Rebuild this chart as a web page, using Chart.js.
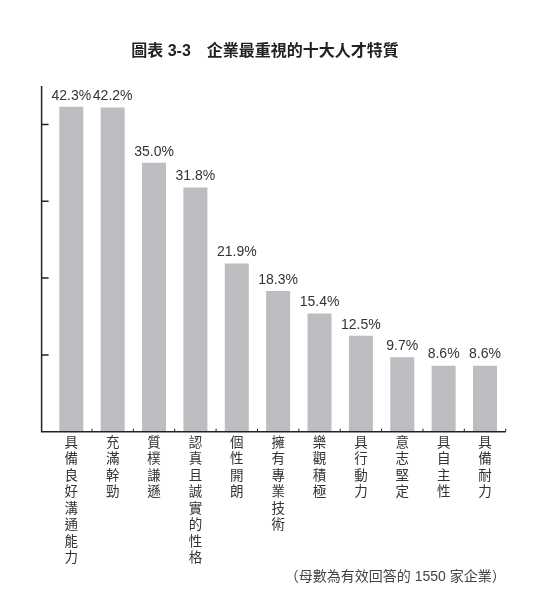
<!DOCTYPE html>
<html>
<head>
<meta charset="utf-8">
<script src="https://cdn.jsdelivr.net/npm/chart.js@4"></script>
<style>
  html, body { margin: 0; padding: 0; background: #fff; }
  #wrap { width: 540px; height: 608px; }
</style>
</head>
<body>
<div id="wrap"><canvas id="barchart" width="540" height="608"></canvas></div>
<script>
"use strict";

var categories = ['具備良好溝通能力', '充滿幹勁', '質樸謙遜', '認真且誠實的性格', '個性開朗',
    '擁有專業技術', '樂觀積極', '具行動力', '意志堅定', '具自主性', '具備耐力'];
var percents = [42.3, 42.2, 35.0, 31.8, 21.9, 18.3, 15.4, 12.5, 9.7, 8.6, 8.6];
var yTicks = [10, 20, 30, 40];
var yMax = 45;

var fontFamily = '"Liberation Sans", Arial, "Noto Sans CJK TC", sans-serif';
var textColor = '#333333';

// draw value labels above each bar
var valueLabels = {
    id: 'valueLabels',
    afterDatasetsDraw: function (chart) {
        var ctx = chart.ctx;
        var meta = chart.getDatasetMeta(0);
        ctx.save();
        ctx.font = '14px ' + fontFamily;
        ctx.fillStyle = textColor;
        ctx.textAlign = 'center';
        ctx.textBaseline = 'bottom';
        meta.data.forEach(function (bar, i) {
            ctx.fillText(percents[i].toFixed(1) + '%', bar.x, bar.y - 4);
        });
        ctx.restore();
    }
};

// axis lines with inward ticks
var axisLines = {
    id: 'axisLines',
    afterDraw: function (chart) {
        var ctx = chart.ctx;
        var area = chart.chartArea;
        var x = chart.scales.x;
        var y = chart.scales.y;
        var axisX = area.left - 9;
        ctx.save();
        ctx.strokeStyle = '#222222';
        ctx.lineWidth = 1.5;
        ctx.beginPath();
        ctx.moveTo(axisX, y.getPixelForValue(yMax));
        ctx.lineTo(axisX, area.bottom);
        ctx.lineTo(area.right, area.bottom);
        ctx.stroke();

        ctx.beginPath();
        yTicks.forEach(function (v) {
            var py = y.getPixelForValue(v);
            ctx.moveTo(axisX, py);
            ctx.lineTo(axisX + 7, py);
        });
        ctx.stroke();

        ctx.lineWidth = 1;
        ctx.beginPath();
        for (var i = 1; i <= categories.length; i++) {
            var px = i < categories.length
                ? (x.getPixelForValue(i - 1) + x.getPixelForValue(i)) / 2
                : area.right;
            ctx.moveTo(px, area.bottom);
            ctx.lineTo(px, area.bottom - 3);
        }
        ctx.stroke();
        ctx.restore();
    }
};

var ctx = document.getElementById('barchart').getContext('2d');
var myChart = new Chart(ctx, {
    type: 'bar',
    data: {
        labels: categories.map(function (c) { return c.split(''); }),
        datasets: [{
            data: percents,
            backgroundColor: '#bcbdc0',
            borderWidth: 0,
            barPercentage: 0.58,
            categoryPercentage: 1
        }]
    },
    options: {
        responsive: false,
        animation: false,
        layout: {
            padding: { left: 24.3, right: 34.3, top: 0, bottom: 0 }
        },
        scales: {
            x: {
                grid: { display: false, drawTicks: false },
                border: { display: false },
                ticks: {
                    autoSkip: false,
                    maxRotation: 0,
                    minRotation: 0,
                    padding: 3,
                    color: textColor,
                    font: { family: fontFamily, size: 13.5, lineHeight: '16.5px' }
                },
                afterFit: function (scale) { scale.height = 134; }
            },
            y: {
                min: 0,
                max: yMax,
                grid: { display: false, drawTicks: false },
                border: { display: false },
                ticks: { display: false },
                afterFit: function (scale) { scale.width = 26.3; }
            }
        },
        plugins: {
            legend: { display: false },
            tooltip: { enabled: false },
            title: {
                display: true,
                text: '圖表 3-3　企業最重視的十大人才特質',
                color: '#222222',
                font: { family: fontFamily, size: 16, weight: 'bold', lineHeight: 1.2 },
                padding: { top: 42, bottom: 24.8 }
            },
            subtitle: {
                display: true,
                position: 'bottom',
                align: 'end',
                text: '（母數為有效回答的 1550 家企業）',
                color: '#444444',
                font: { family: fontFamily, size: 14, lineHeight: 1.2 },
                padding: { top: 2.9, bottom: 22.6 }
            }
        }
    },
    plugins: [valueLabels, axisLines]
});
</script>
</body>
</html>
